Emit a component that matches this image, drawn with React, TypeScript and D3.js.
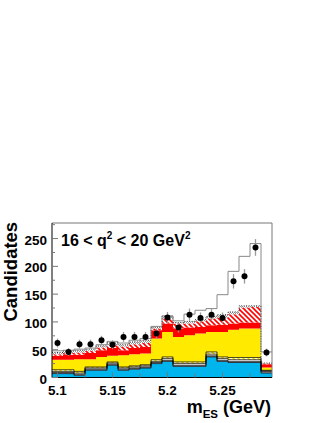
import * as d3 from "d3";

// bin centres of m_ES (GeV), bin width 0.01
const mES = [5.1, 5.11, 5.12, 5.13, 5.14, 5.15, 5.16, 5.17, 5.18, 5.19, 5.2, 5.21, 5.22, 5.23, 5.24, 5.25, 5.26, 5.27, 5.28, 5.29];
const binWidth = 0.01;

// stacked components, bottom to top
const cyanBkg = [7, 7, 4, 13, 13, 22, 13, 15, 17, 25, 29, 20, 20, 20, 37, 29, 27, 27, 27, 8];
const greySmall = [2, 2, 2, 2, 2, 2, 2, 2, 2, 2, 2, 2, 2, 2, 2, 2, 2, 2, 2, 3];
const whiteSmall = [2, 2, 2, 2, 2, 2, 2, 2, 2, 2, 3, 3, 3, 3, 3, 3, 3, 3, 3, 1];
const yellowHatch = [3, 3, 3, 2, 2, 2, 2, 2, 2, 3, 3, 3, 3, 3, 4, 3, 4, 4, 4, 1];
const yellowBkg = [18, 18, 22, 14, 18, 11, 21, 21, 20, 38, 45, 45, 48, 51, 36, 45, 50, 52, 52, 5];
const redBkg = [7, 9, 8, 11, 12, 14, 9, 11, 12, 15, 15, 15, 14, 12, 12, 13, 11, 11, 11, 6];
const redHatch = [3, 3, 4, 4, 5, 5, 7, 7, 7, 3, 9, 9, 7, 10, 12, 13, 17, 27, 28, 1];
const greyDot = [3, 4, 4, 3, 3, 5, 3, 4, 5, 3, 4, 2, 4, 3, 4, 5, 4, 3, 2, 1];
const signal = [3, 1, 2, 2, 2, 2, 3, 3, 3, 1, 1, 3, 13, 17, 14, 36, 73, 89, 112, 20];

// data
const counts = [62, 46, 60, 60, 67, 59, 73, 73, 73, 79, 108, 90, 113, 107, 113, 107, 173, 182, 234, 45];
const errors = [8, 7, 8, 8, 8, 8, 9, 9, 9, 9, 10, 9, 11, 10, 11, 10, 13, 13, 15, 7];

const yTicks = [0, 50, 100, 150, 200, 250];
const yMinor = [25, 75, 125, 175, 225, 275];
const xTicks = [5.1, 5.15, 5.2, 5.25];
const xMinor = [5.125, 5.175, 5.225, 5.275];

const keys = ["cyan", "greySmall", "whiteSmall", "yellowHatch", "yellow", "red", "redHatch", "greyDot", "signal"];
const fills: Record<string, string> = {
  cyan: "#00b4ee",
  greySmall: "#9a9a9a",
  whiteSmall: "#ffffff",
  yellowHatch: "url(#yhatch)",
  yellow: "#ffea00",
  red: "#ff0000",
  redHatch: "url(#rhatch)",
  greyDot: "url(#gdot)",
  signal: "#ffffff",
};
const tops: Record<string, any> = {
  cyan: { stroke: "#000", w: 0.7 },
  greySmall: { stroke: "#000", w: 0.7 },
  whiteSmall: { stroke: "#000", w: 0.7 },
  yellowHatch: { stroke: "#000", w: 0.7 },
  greyDot: { stroke: "#000", w: 0.8, dash: "1,1.5" },
  signal: { stroke: "#888", w: 1 },
};

const font = "'Liberation Sans', Arial, Helvetica, sans-serif";

export default function App() {
  const left = 52, right = 272, top = 223, bottom = 377.5;
  const x = d3.scaleLinear().domain([5.095, 5.295]).range([left, right]);
  const y = d3.scaleLinear().domain([0, 278]).range([bottom, top]);

  const rows = mES.map((m, i) => ({
    cyan: cyanBkg[i],
    greySmall: greySmall[i],
    whiteSmall: whiteSmall[i],
    yellowHatch: yellowHatch[i],
    yellow: yellowBkg[i],
    red: redBkg[i],
    redHatch: redHatch[i],
    greyDot: greyDot[i],
    signal: signal[i],
  }));
  const series = d3.stack<any>().keys(keys)(rows);

  type P = { x: number; y0: number; y1: number };
  const steps = (s: any): P[] =>
    s.flatMap((d: any, i: number) => [
      { x: x(mES[i] - binWidth / 2), y0: y(d[0]), y1: y(d[1]) },
      { x: x(mES[i] + binWidth / 2), y0: y(d[0]), y1: y(d[1]) },
    ]);
  const area = d3.area<P>().x((d) => d.x).y0((d) => d.y0).y1((d) => d.y1);
  const line = d3.line<P>().x((d) => d.x).y((d) => d.y1);

  return (
    <svg width={327} height={423} style={{ position: "absolute", left: 0, top: 0, background: "#fff" }}>
      <defs>
        <pattern id="rhatch" patternUnits="userSpaceOnUse" width={5} height={5}>
          <rect width={5} height={5} fill="#fff" />
          <path d="M-1,-1L6,6M-1,4L1,6M4,-1L6,1" stroke="#ff0000" strokeWidth={1.6} />
        </pattern>
        <pattern id="yhatch" patternUnits="userSpaceOnUse" width={5} height={5}>
          <rect width={5} height={5} fill="#fff" />
          <path d="M-1,-1L6,6M-1,4L1,6M4,-1L6,1" stroke="#f2dc00" strokeWidth={1.6} />
        </pattern>
        <pattern id="gdot" patternUnits="userSpaceOnUse" width={2} height={2}>
          <rect width={2} height={2} fill="#fff" />
          <rect width={1} height={1} fill="#999" />
          <rect x={1} y={1} width={1} height={1} fill="#999" />
        </pattern>
      </defs>

      {series.map((s: any) => (
        <path key={s.key} d={area(steps(s)) || ""} fill={fills[s.key]} stroke="none" />
      ))}
      {series
        .filter((s: any) => tops[s.key])
        .map((s: any) => (
          <path
            key={"t" + s.key}
            d={line(steps(s)) || ""}
            fill="none"
            stroke={tops[s.key].stroke}
            strokeWidth={tops[s.key].w}
            strokeDasharray={tops[s.key].dash}
          />
        ))}

      {/* frame */}
      <line x1={left} x2={right} y1={top} y2={top} stroke="#777" />
      <line x1={right} x2={right} y1={top} y2={bottom} stroke="#777" />
      <line x1={left} x2={left} y1={top} y2={bottom} stroke="#000" />
      <line x1={left} x2={right} y1={bottom} y2={bottom} stroke="#000" />

      {/* y axis */}
      {yTicks.map((t) => (
        <g key={"y" + t}>
          <line x1={left} x2={left + 6} y1={y(t)} y2={y(t)} stroke="#777" />
          <text x={47} y={y(t) + 6} textAnchor="end" fontFamily={font} fontWeight="bold" fontSize={13.5}>
            {t}
          </text>
        </g>
      ))}
      {yMinor.filter((t) => y(t) > top).map((t) => (
        <line key={"ym" + t} x1={left} x2={left + 3} y1={y(t)} y2={y(t)} stroke="#777" />
      ))}

      {/* x axis */}
      {xTicks.map((t) => (
        <g key={"x" + t}>
          <line x1={x(t)} x2={x(t)} y1={bottom} y2={bottom - 5} stroke="#777" />
          <text x={x(t)} y={394.5} textAnchor="middle" fontFamily={font} fontWeight="bold" fontSize={13.5}>
            {d3.format("")(t)}
          </text>
        </g>
      ))}
      {xMinor.map((t) => (
        <line key={"xm" + t} x1={x(t)} x2={x(t)} y1={bottom} y2={bottom - 4} stroke="#777" />
      ))}

      {/* data points */}
      {counts.map((c, i) => (
        <g key={"d" + i}>
          <line x1={x(mES[i])} x2={x(mES[i])} y1={y(c - errors[i])} y2={y(c + errors[i])} stroke="#999" strokeWidth={1.3} />
          <circle cx={x(mES[i])} cy={y(c)} r={3} fill="#000" />
        </g>
      ))}

      {/* labels */}
      <text
        transform="translate(16.5,271.7) rotate(-90)"
        textAnchor="middle"
        fontFamily={font}
        fontWeight="bold"
        fontSize={18.5}
      >
        Candidates
      </text>
      <text x={271} y={413} textAnchor="end" fontFamily={font} fontWeight="bold" fontSize={18}>
        m
        <tspan fontSize={11.5} dy={5}>ES</tspan>
        <tspan dy={-5}> (GeV)</tspan>
      </text>
      <text x={61} y={246} fontFamily={font} fontWeight="bold" fontSize={16}>
        16 &lt; q<tspan fontSize={10} dy={-7}>2</tspan>
        <tspan dy={7}> &lt; 20 GeV</tspan>
        <tspan fontSize={10} dy={-7}>2</tspan>
      </text>
    </svg>
  );
}
